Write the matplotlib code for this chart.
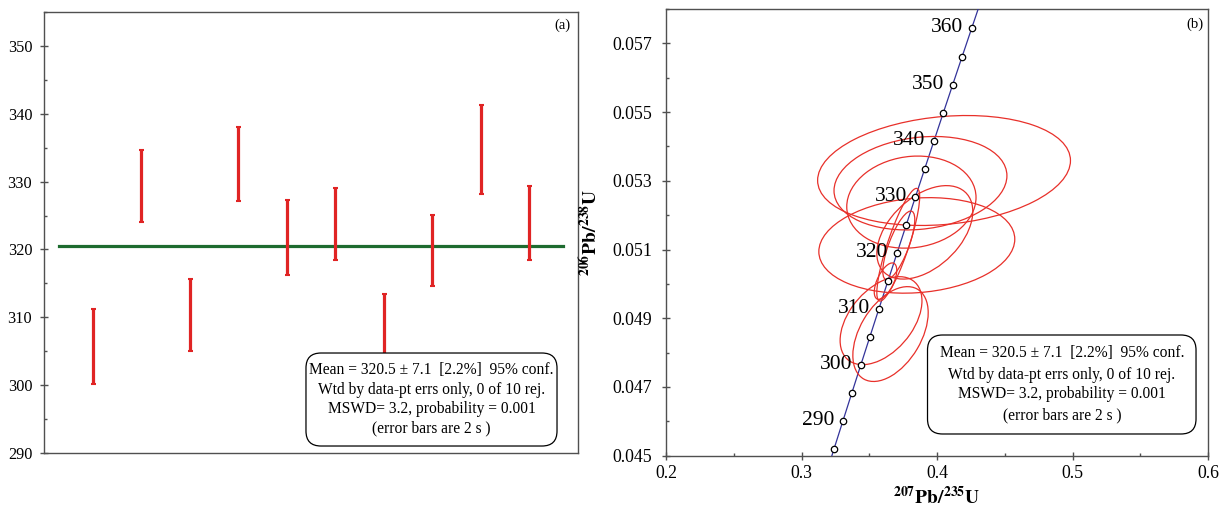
import numpy as np
import matplotlib
matplotlib.use('Agg')
import matplotlib.pyplot as plt
from matplotlib.patches import Ellipse, FancyBboxPatch
from matplotlib.ticker import MultipleLocator, FormatStrFormatter

plt.rcParams['font.family'] = ['Liberation Serif', 'DejaVu Serif']
plt.rcParams['mathtext.fontset'] = 'stix'

# (a) weighted mean of 206Pb/238U ages, Ma (2s bars)
spot = [1, 2, 3, 4, 5, 6, 7, 8, 9, 10]
age_lo = [300.2, 324.0, 305.0, 327.1, 316.2, 318.5, 302.6, 314.6, 328.1, 318.5]
age_hi = [311.3, 334.7, 315.6, 338.1, 327.3, 329.0, 313.5, 325.1, 341.3, 329.3]
mean_age = 320.5

# (b) concordia diagram
conc_age = [280, 285, 290, 295, 300, 305, 310, 315, 320, 325, 330,
            335, 340, 345, 350, 355, 360, 365]
conc_x = [0.31753, 0.32403, 0.33057, 0.33714, 0.34374, 0.35037, 0.35704,
          0.36374, 0.37047, 0.37723, 0.38403, 0.39086, 0.39773, 0.40463,
          0.41156, 0.41853, 0.42553, 0.43257]
conc_y = [0.044392, 0.045202, 0.046013, 0.046825, 0.047638, 0.048450,
          0.049264, 0.050077, 0.050892, 0.051708, 0.052524, 0.053341,
          0.054158, 0.054976, 0.055794, 0.056613, 0.057433, 0.058254]
label_ages = [290, 300, 310, 320, 330, 340, 350, 360]
yticks_b = [0.045, 0.047, 0.049, 0.051, 0.053, 0.055, 0.057]

# error ellipses: centre, half extents, correlation
ell_x = [0.4052, 0.3878, 0.3811, 0.3851, 0.3910, 0.3714, 0.3718, 0.3620, 0.3587, 0.3657]
ell_y = [0.05330, 0.05293, 0.05238, 0.05112, 0.05150, 0.05114, 0.05112, 0.05008, 0.04893, 0.04854]
ell_sx = [0.0933, 0.0638, 0.0477, 0.0723, 0.0354, 0.0158, 0.0118, 0.0083, 0.0302, 0.0278]
ell_sy = [0.00160, 0.00136, 0.00134, 0.00139, 0.00136, 0.00164, 0.00100, 0.00053, 0.00128, 0.00138]
ell_rho = [0.18, 0.16, 0.10, 0.13, 0.45, 0.85, 0.75, 0.60, 0.45, 0.45]

stats = ['Mean = 320.5 \u00b1 7.1  [2.2%]  95% conf.',
         'Wtd by data-pt errs only, 0 of 10 rej.',
         'MSWD= 3.2, probability = 0.001',
         '(error bars are 2 s )']

W, H = 1228, 508
fig = plt.figure(figsize=(W / 100, H / 100), dpi=100)
axa = fig.add_axes([44 / W, 1 - 453.3 / H, 534 / W, 441.6 / H])
axb = fig.add_axes([666 / W, 1 - 455.7 / H, 542 / W, 446.7 / H])

spine_c = '#505050'
for ax in (axa, axb):
    for s in ax.spines.values():
        s.set_color(spine_c)
        s.set_linewidth(1.0)
    ax.tick_params(which='major', direction='inout', length=6, width=1, color=spine_c)
    ax.tick_params(which='minor', direction='in', length=2.5, width=1, color=spine_c)
axa.tick_params(axis='y', labelsize=11.7, pad=5.5)
axb.tick_params(axis='y', labelsize=12.8, pad=7)
axb.tick_params(axis='x', labelsize=12.8, pad=4)


def stat_box(ax, x0, y0, x1, y1, wpx, hpx):
    box = FancyBboxPatch((x0, y0), x1 - x0, y1 - y0,
                         boxstyle='round,pad=0,rounding_size=%f' % (15 / wpx),
                         mutation_aspect=wpx / hpx, transform=ax.transAxes,
                         fc='white', ec='black', lw=0.9, zorder=6)
    ax.add_patch(box)
    for f, line in zip([0.18, 0.40, 0.60, 0.81], stats):
        ax.text((x0 + x1) / 2, y1 - f * (y1 - y0), line, transform=ax.transAxes,
                ha='center', va='center', fontsize=11.2, zorder=7)


# ---- panel (a)
lo = np.array(age_lo)
hi = np.array(age_hi)
mid = (lo + hi) / 2
axa.errorbar(spot, mid, yerr=[mid - lo, hi - mid], fmt='none', ecolor='#e02424',
             elinewidth=2.3, capsize=1.8, capthick=1.5, zorder=4)
axa.plot([0.3, 10.7], [mean_age, mean_age], color='#1d6b2f', lw=2.3, zorder=3)
axa.set_xlim(0, 11)
axa.set_ylim(290, 355)
axa.set_xticks([])
axa.yaxis.set_major_locator(MultipleLocator(10))
axa.yaxis.set_minor_locator(MultipleLocator(5))
axa.text(0.971, 0.97, '(a)', transform=axa.transAxes, ha='center', va='center', fontsize=10.5)
stat_box(axa, 0.4906, 0.0165, 0.9607, 0.2271, 534, 441.6)

# ---- panel (b)
axb.plot(conc_x, conc_y, color='#33339a', lw=0.9, zorder=3)
axb.plot(conc_x, conc_y, 'o', ms=4.6, mfc='white', mec='black', mew=0.9, zorder=5)
for a in label_ages:
    i = conc_age.index(a)
    axb.annotate(str(a), (conc_x[i], conc_y[i]), xytext=(-6, 0.5),
                 textcoords='offset points', ha='right', va='center',
                 fontsize=15.5, zorder=5)

for x0, y0, sx, sy, r in zip(ell_x, ell_y, ell_sx, ell_sy, ell_rho):
    cov = np.array([[sx * sx, r * sx * sy], [r * sx * sy, sy * sy]])
    vals, vecs = np.linalg.eigh(cov)
    ang = np.degrees(np.arctan2(vecs[1, 1], vecs[0, 1]))
    e = Ellipse((x0, y0), 2 * np.sqrt(vals[1]), 2 * np.sqrt(vals[0]), angle=ang,
                fill=False, ec='#e8302a', lw=0.9, zorder=4)
    axb.add_patch(e)

axb.set_xlim(0.2, 0.6)
axb.set_ylim(0.045, 0.058)
axb.xaxis.set_major_locator(MultipleLocator(0.1))
axb.xaxis.set_minor_locator(MultipleLocator(0.05))
axb.set_yticks(yticks_b)
axb.yaxis.set_minor_locator(MultipleLocator(0.001))
axb.xaxis.set_major_formatter(FormatStrFormatter('%.1f'))
axb.yaxis.set_major_formatter(FormatStrFormatter('%.3f'))
axb.set_xlabel(r'$^{\mathbf{207}}\mathbf{Pb/}^{\mathbf{235}}\mathbf{U}$', fontsize=14)
axb.set_ylabel(r'$^{\mathbf{206}}\mathbf{Pb/}^{\mathbf{238}}\mathbf{U}$', fontsize=14)
axb.xaxis.set_label_coords(0.5, -0.068)
axb.yaxis.set_label_coords(-0.12, 0.5)
axb.text(0.976, 0.966, '(b)', transform=axb.transAxes, ha='center', va='center', fontsize=10.5)
stat_box(axb, 0.4825, 0.0486, 0.9779, 0.2702, 542, 446.7)

fig.savefig('out.png', dpi=100)
